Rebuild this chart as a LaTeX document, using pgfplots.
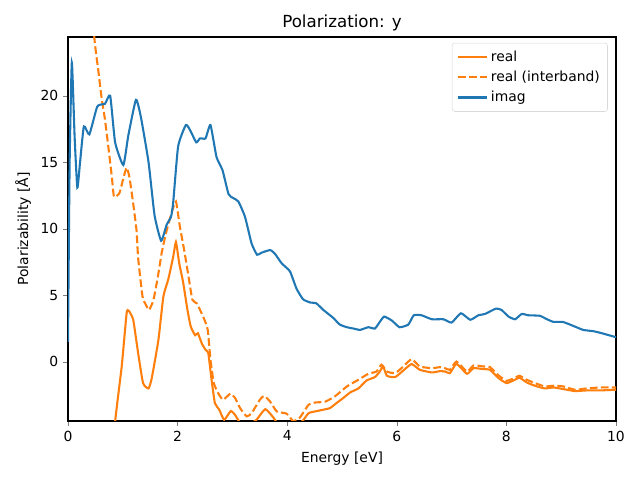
\documentclass[border=0pt]{standalone}
\usepackage{fontspec}
\setmainfont{DejaVu Sans}
\usepackage{pgfplots}
\pgfplotsset{compat=1.18}
\definecolor{mplorange}{HTML}{FF7F0E}
\definecolor{mplblue}{HTML}{1F77B4}
\begin{document}
\begin{tikzpicture}
\begin{axis}[
  at={(0,0)}, anchor=south west,
  scale only axis,
  width=394.56pt, height=276.48pt,
  xmin=0, xmax=10, ymin=-4.45, ymax=24.42,
  xtick={0,2,4,6,8,10}, ytick={0,5,10,15,20},
  tick align=outside, tick pos=left,
  major tick length=3.5pt,
  /pgf/number format/assume math mode=true,
  tick label style={font=\fontsize{10}{12}\selectfont},
  label style={font=\fontsize{10}{12}\selectfont},
  title style={font=\fontsize{12}{14}\selectfont, yshift=-5.5pt},
  title={Polarization: y},
  xlabel={Energy [eV]},
  ylabel={Polarizability [Å]},
  xlabel style={yshift=-1pt},
  ylabel style={yshift=0pt},
  clip=true,
  axis line style={line width=0.8pt},
  legend cell align=left,
  legend style={at={(0.985,0.985)}, anchor=north east, draw=black!15, rounded corners=2pt,
    font=\fontsize{10}{12}\selectfont, row sep=1.5pt, inner sep=3.5pt},
  legend image code/.code={\draw[#1] (0pt,0pt) -- (21pt,0pt);},
  every axis plot/.append style={smooth, tension=0.3},
]
\addplot[mplorange, line width=1.5pt] coordinates {
(0.70,-12) (0.86,-4.5) (0.98,-0.35) (1.07,3.66) (1.11,3.83) (1.19,3.16) (1.28,0.65)
(1.37,-1.6) (1.47,-2.0) (1.53,-1.2) (1.65,1.65) (1.74,4.9) (1.83,6.2) (1.92,7.9)
(1.97,9.0) (2.03,7.4) (2.10,6.0) (2.18,3.9) (2.24,2.65) (2.32,2.0) (2.37,2.15)
(2.44,1.4) (2.51,0.9) (2.56,0.65) (2.62,-1.35) (2.68,-3.1) (2.76,-3.6) (2.85,-4.36)
(2.97,-3.7) (3.05,-4.0) (3.14,-4.6) (3.26,-5.0) (3.35,-4.6) (3.44,-4.36) (3.6,-3.56)
(3.75,-4.2) (3.85,-4.8) (4.05,-5.0) (4.20,-4.7) (4.29,-4.4) (4.39,-3.86) (4.51,-3.73)
(4.66,-3.6) (4.78,-3.48) (4.90,-3.1) (5.02,-2.73) (5.15,-2.3) (5.30,-2.0) (5.45,-1.4)
(5.60,-1.15) (5.69,-0.73) (5.75,-0.35) (5.82,-1.05) (5.97,-1.15) (6.12,-0.65)
(6.27,-0.17) (6.42,-0.6) (6.64,-0.8) (6.79,-0.7) (6.88,-0.73) (6.97,-0.85)
(7.09,-0.15) (7.28,-0.9) (7.40,-0.48) (7.58,-0.55) (7.70,-0.6) (7.85,-1.2)
(8.00,-1.6) (8.13,-1.4) (8.24,-1.2) (8.37,-1.55) (8.52,-1.8) (8.70,-2.0)
(8.86,-1.93) (9.04,-2.05) (9.25,-2.2) (9.47,-2.15) (9.71,-2.15) (10.0,-2.1)
};
\addlegendentry{real}
\addplot[mplorange, line width=1.5pt, dash pattern=on 5.55pt off 2.4pt] coordinates {
(0.35,32) (0.48,24.4) (0.55,22.0) (0.61,19.95) (0.675,18.2) (0.735,16.2) (0.80,13.9)
(0.84,12.4) (0.94,12.7) (1.01,13.8) (1.07,14.6) (1.12,13.9) (1.18,12.2) (1.25,9.9)
(1.28,7.8) (1.36,4.9) (1.42,4.3) (1.48,3.9) (1.56,4.66) (1.64,6.4) (1.71,8.2)
(1.79,9.7) (1.89,11.2) (1.97,12.05) (2.04,10.2) (2.12,8.4) (2.20,6.4) (2.27,4.66)
(2.35,4.4) (2.41,3.9) (2.49,3.16) (2.55,2.4) (2.60,0.15) (2.66,-1.6) (2.74,-2.35)
(2.83,-2.86) (2.96,-2.4) (3.05,-2.73) (3.14,-3.48) (3.26,-4.1) (3.35,-3.86)
(3.50,-2.86) (3.58,-2.56) (3.69,-3.0) (3.81,-3.73) (3.99,-3.9) (4.11,-4.45)
(4.23,-4.2) (4.39,-3.23) (4.51,-3.06) (4.69,-3.0) (4.87,-2.6) (5.09,-1.85)
(5.30,-1.35) (5.48,-0.9) (5.63,-0.73) (5.72,-0.22) (5.82,-0.73) (5.97,-0.85)
(6.12,-0.35) (6.27,0.2) (6.42,-0.35) (6.64,-0.48) (6.79,-0.4) (6.88,-0.48)
(6.97,-0.6) (7.09,0.02) (7.28,-0.73) (7.40,-0.28) (7.58,-0.35) (7.70,-0.4)
(7.85,-1.0) (8.00,-1.43) (8.13,-1.25) (8.24,-1.05) (8.37,-1.35) (8.52,-1.6)
(8.70,-1.85) (8.86,-1.8) (9.04,-1.85) (9.25,-2.1) (9.47,-2.0) (9.71,-1.93) (10.0,-1.93)
};
\addlegendentry{real (interband)}
\addplot[mplblue, line width=1.5pt] coordinates {
(0.0,1.5) (0.03,15) (0.07,22.5) (0.12,17) (0.17,13.1) (0.22,15) (0.29,17.7)
(0.39,17.1) (0.535,19.2) (0.675,19.4) (0.77,20.0) (0.86,16.5) (1.01,14.8)
(1.10,17.0) (1.24,19.7) (1.33,18.4) (1.47,15.0) (1.58,11.0) (1.70,9.1) (1.80,10.3)
(1.88,10.9) (1.92,12.0) (2.01,16.2) (2.15,17.8) (2.23,17.4) (2.34,16.5) (2.41,16.8)
(2.51,16.8) (2.60,17.8) (2.71,15.4) (2.82,14.4) (2.93,12.6) (3.02,12.3) (3.11,12.05)
(3.23,10.9) (3.35,8.9) (3.45,8.05) (3.53,8.2) (3.69,8.4) (3.78,8.1) (3.90,7.4)
(4.05,6.8) (4.17,5.5) (4.29,4.7) (4.42,4.46) (4.53,4.4) (4.66,3.9) (4.84,3.3)
(4.96,2.8) (5.09,2.6) (5.21,2.5) (5.33,2.4) (5.48,2.6) (5.60,2.5) (5.69,3.0)
(5.77,3.4) (5.91,3.1) (6.05,2.6) (6.21,2.8) (6.31,3.5) (6.45,3.5) (6.64,3.2)
(6.85,3.2) (7.00,2.95) (7.17,3.65) (7.34,3.16) (7.49,3.5) (7.61,3.6) (7.81,4.0)
(7.91,3.9) (8.04,3.4) (8.16,3.2) (8.28,3.6) (8.40,3.5) (8.61,3.46) (8.74,3.2)
(8.86,3.0) (9.03,3.0) (9.22,2.7) (9.40,2.4) (9.59,2.3) (9.74,2.15) (10.0,1.85)
};
\addlegendentry{imag}
\end{axis}
\path (-48.96pt,-42.48pt) rectangle ++(460.8pt,345.6pt);
\end{tikzpicture}
\end{document}
